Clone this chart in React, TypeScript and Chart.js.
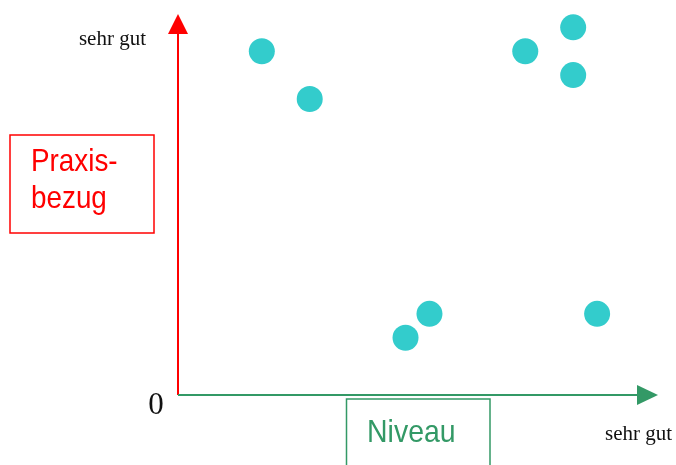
import React, { useEffect, useRef } from "react";
import { Chart, registerables } from "chart.js";

Chart.register(...registerables);

// Niveau (x) and Praxisbezug (y) ratings
const niveau = [3.5, 5.5, 14.5, 16.5, 16.5, 9.5, 10.5, 17.5];
const praxisbezug = [14.4, 12.4, 14.4, 15.4, 13.4, 2.4, 3.4, 3.4];
const xMax = 20;
const yMax = 16;
const topLabel = "sehr gut";
const rightLabel = "sehr gut";
const originLabel = "0";
const yTitle = ["Praxis-", "bezug"];
const xTitle = "Niveau";

const RED = "#ff0000";
const GREEN = "#339966";
const DOT = "#33cccc";

function drawCondensed(ctx: CanvasRenderingContext2D, text: string, x: number, y: number, sx: number) {
  ctx.save();
  ctx.translate(x, y);
  ctx.scale(sx, 1);
  ctx.fillText(text, 0, 0);
  ctx.restore();
}

const decorPlugin = {
  id: "decor",
  beforeDatasetsDraw(chart: any) {
    const { ctx, chartArea, scales } = chart;
    const x0 = scales.x.getPixelForValue(0);
    const y0 = scales.y.getPixelForValue(0);
    const xEnd = chartArea.right + 1;
    const yEnd = chartArea.top + 1;
    ctx.save();
    // y axis (red)
    ctx.strokeStyle = RED;
    ctx.lineWidth = 2;
    ctx.beginPath();
    ctx.moveTo(x0, y0);
    ctx.lineTo(x0, yEnd + 18);
    ctx.stroke();
    ctx.fillStyle = RED;
    ctx.beginPath();
    ctx.moveTo(x0, yEnd);
    ctx.lineTo(x0 - 10, yEnd + 20);
    ctx.lineTo(x0 + 10, yEnd + 20);
    ctx.closePath();
    ctx.fill();
    // x axis (green)
    ctx.strokeStyle = GREEN;
    ctx.beginPath();
    ctx.moveTo(x0, y0);
    ctx.lineTo(xEnd - 19, y0);
    ctx.stroke();
    ctx.fillStyle = GREEN;
    ctx.beginPath();
    ctx.moveTo(xEnd, y0);
    ctx.lineTo(xEnd - 21, y0 - 10);
    ctx.lineTo(xEnd - 21, y0 + 10);
    ctx.closePath();
    ctx.fill();

    // serif labels
    ctx.fillStyle = "#111";
    ctx.font = "21px 'Liberation Serif', 'Times New Roman', serif";
    ctx.textBaseline = "alphabetic";
    ctx.textAlign = "right";
    ctx.fillText(topLabel, 146, 45);
    ctx.textAlign = "left";
    ctx.fillText(rightLabel, 605, 440);
    ctx.font = "31px 'Liberation Serif', 'Times New Roman', serif";
    ctx.textAlign = "center";
    ctx.fillText(originLabel, 156, 414);

    // Praxisbezug box
    ctx.strokeStyle = RED;
    ctx.lineWidth = 1.5;
    ctx.strokeRect(10, 135, 144, 98);
    ctx.fillStyle = RED;
    ctx.textAlign = "left";
    ctx.font = "32px 'Liberation Sans', Arial, sans-serif";
    drawCondensed(ctx, yTitle[0], 31, 171, 0.87);
    drawCondensed(ctx, yTitle[1], 31, 208, 0.87);

    // Niveau box
    ctx.strokeStyle = GREEN;
    ctx.strokeRect(346.5, 399, 143.5, 80);
    ctx.fillStyle = GREEN;
    drawCondensed(ctx, xTitle, 367, 442, 0.89);
    ctx.restore();
  },
};

export default function App() {
  const ref = useRef<HTMLCanvasElement | null>(null);
  useEffect(() => {
    document.body.style.margin = "0";
    const canvas = ref.current!;
    const chart = new Chart(canvas, {
      type: "scatter",
      data: {
        datasets: [
          {
            data: niveau.map((x, i) => ({ x, y: praxisbezug[i] })),
            backgroundColor: DOT,
            borderColor: DOT,
            pointRadius: 13,
            borderWidth: 0,
          },
        ],
      },
      options: {
        responsive: false,
        animation: false,
        layout: { padding: { left: 178, right: 19, top: 12, bottom: 70 } },
        scales: {
          x: { type: "linear", min: 0, max: xMax, display: false },
          y: { type: "linear", min: 0, max: yMax, display: false },
        },
        plugins: {
          legend: { display: false },
          tooltip: { enabled: false },
        },
      },
      plugins: [decorPlugin],
    });
    return () => chart.destroy();
  }, []);
  return <canvas ref={ref} width={676} height={465} style={{ display: "block" }} />;
}
